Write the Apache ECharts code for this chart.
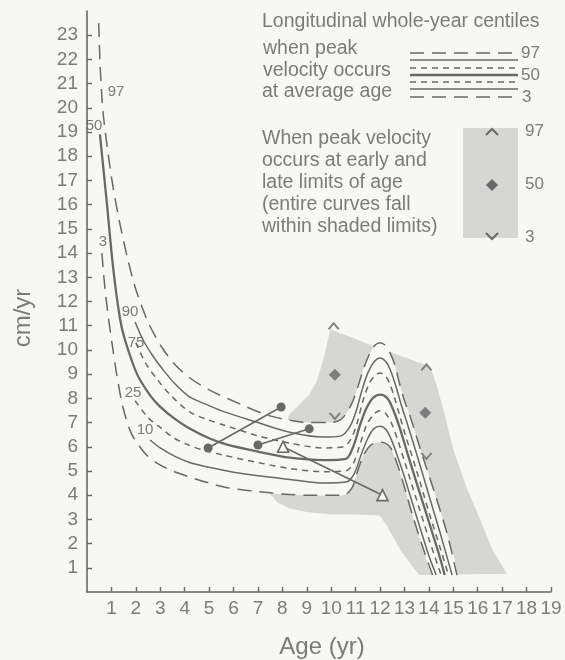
<!DOCTYPE html>
<html>
<head>
<meta charset="utf-8">
<script src="https://cdn.jsdelivr.net/npm/echarts@6/dist/echarts.min.js"></script>
<style>
  html, body { margin: 0; padding: 0; background: #f7f7f4; }
  #chart { width: 565px; height: 660px; }
</style>
</head>
<body>
<div id="chart"></div>
<script>
// whole-year centile curves, [age (yr), velocity (cm/yr)]
var p97 = [[0.48,23.5],[0.54,21.7],[0.65,19.9],[0.84,18.3],[1.07,16.7],[1.35,15.2],[1.68,13.7],[2.0,12.5],[2.5,11.15],[3.07,10.1],[3.6,9.4],[4.2,8.85],[5.0,8.35],[6.3,7.75],[7.4,7.3],[8.3,7.1],[9.0,7.0],[10.0,7.0],[10.35,7.1],[10.6,7.35],[10.85,7.8],[11.1,8.5],[11.35,9.3],[11.6,9.9],[11.8,10.2],[12.0,10.3],[12.2,10.2],[12.4,9.9],[12.6,9.4],[12.8,8.6],[13.0,7.9],[13.25,7.2],[13.65,5.9],[14.2,4.2],[14.75,2.4],[15.15,0.7]];
var p90 = [[1.97,11.15],[2.3,10.4],[2.7,9.75],[3.1,9.2],[3.6,8.6],[4.2,8.06],[5.0,7.7],[5.6,7.45],[7.0,7.0],[8.3,6.6],[9.7,6.4],[10.4,6.45],[10.75,6.8],[11.0,7.4],[11.25,8.3],[11.5,9.05],[11.75,9.5],[12.0,9.67],[12.25,9.5],[12.45,9.1],[12.65,8.5],[12.85,7.8],[13.1,7.0],[13.5,5.7],[14.0,4.0],[14.5,2.3],[14.95,0.7]];
var p75 = [[2.0,10.3],[2.4,9.45],[2.9,8.75],[3.4,8.15],[4.2,7.44],[5.0,7.1],[5.6,6.9],[7.0,6.45],[8.3,6.15],[9.7,5.95],[10.5,6.0],[10.8,6.3],[11.05,6.95],[11.3,7.9],[11.55,8.6],[11.8,8.95],[12.0,9.05],[12.2,8.95],[12.4,8.6],[12.6,8.0],[12.8,7.3],[13.0,6.6],[13.5,5.0],[14.0,3.3],[14.5,1.7],[14.8,0.7]];
var p50 = [[0.53,18.9],[0.8,16.2],[1.07,13.4],[1.35,11.3],[1.56,10.4],[2.05,9.0],[2.6,8.1],[3.0,7.65],[3.6,7.15],[4.2,6.75],[5.0,6.35],[5.7,6.1],[7.0,5.8],[8.3,5.55],[9.7,5.45],[10.6,5.5],[10.9,6.0],[11.15,6.8],[11.4,7.5],[11.7,8.0],[12.0,8.15],[12.3,8.0],[12.55,7.5],[12.8,6.8],[13.1,5.8],[13.5,4.5],[14.0,2.9],[14.4,1.6],[14.65,0.7]];
var p25 = [[1.97,7.9],[2.5,7.2],[3.0,6.8],[3.5,6.4],[4.2,6.05],[4.8,5.85],[5.6,5.65],[7.0,5.35],[8.3,5.1],[9.7,4.97],[10.6,5.0],[10.9,5.3],[11.15,6.0],[11.45,6.9],[11.75,7.35],[12.0,7.5],[12.25,7.35],[12.5,6.9],[12.75,6.2],[13.0,5.4],[13.5,3.8],[14.0,2.2],[14.5,0.7]];
var p10 = [[2.58,6.28],[3.0,5.95],[3.6,5.6],[4.2,5.35],[5.0,5.15],[6.0,4.95],[7.0,4.8],[8.3,4.65],[9.7,4.5],[10.65,4.55],[10.95,4.9],[11.2,5.6],[11.5,6.35],[11.75,6.75],[12.0,6.85],[12.25,6.7],[12.5,6.2],[12.75,5.5],[13.0,4.75],[13.5,3.1],[14.0,1.5],[14.3,0.7]];
var p3 = [[0.61,14.0],[0.72,12.7],[0.88,11.3],[1.05,10.1],[1.23,8.9],[1.48,7.6],[1.84,6.5],[2.4,5.7],[2.9,5.3],[3.5,5.0],[4.2,4.75],[5.0,4.5],[5.8,4.3],[7.0,4.15],[8.0,4.05],[9.0,4.0],[10.5,4.0],[10.85,4.3],[11.05,4.9],[11.3,5.6],[11.6,6.05],[12.0,6.2],[12.4,6.0],[12.7,5.3],[12.95,4.5],[13.35,3.1],[13.8,1.7],[14.15,0.7]];

// range covered when peak comes early / late
var shadeOutline = [[9.96,10.85],[11.0,10.45],[12.0,10.05],[13.0,9.7],[14.05,9.3],[14.3,8.6],[14.6,7.5],[15.0,5.9],[15.55,4.3],[16.1,3.0],[16.6,1.75],[17.2,0.75],[13.6,0.7],[12.85,1.7],[12.3,2.7],[12.0,3.15],[11.0,3.2],[10.0,3.2],[9.0,3.3],[8.3,3.45],[7.8,3.7],[7.45,4.1],[7.35,4.6],[7.6,5.6],[7.95,6.6],[8.3,7.35],[8.7,7.75],[9.1,8.15],[9.4,8.7],[9.65,9.5],[9.82,10.2]];

// early / late peak markers: 97th, 50th, 3rd
var markHigh = [[10.1,11.0],[13.9,9.3]];
var markMid = [[10.15,8.97],[13.85,7.4]];
var markLow = [[10.15,7.25],[13.9,5.6]];

// individual children
var childA = [[4.96,5.95],[7.95,7.64]];
var childB = [[7.0,6.07],[9.1,6.74]];
var childC = [[8.03,6.0],[12.1,4.0]];

var xTicks = [1,2,3,4,5,6,7,8,9,10,11,12,13,14,15,16,17,18,19];
var yTicks = [1,2,3,4,5,6,7,8,9,10,11,12,13,14,15,16,17,18,19,20,21,22,23];

var INK = '#686868', TXT = '#7b7b7b', BG = '#f7f7f4', SHADE = '#d6d6d4';
var LONG = [14, 8], SHORT = [6, 5];
var FONT = '"Liberation Sans", Arial, sans-serif';
var CARET_UP = 'path://M0,8 L6,0 L12,8 L10.2,9 L6,3.4 L1.8,9 Z';
var CARET_DOWN = 'path://M0,1 L6,9 L12,1 L10.2,0 L6,5.6 L1.8,0 Z';

function polygonSeries(points, fill, z, smooth) {
    return {
        type: 'custom',
        silent: true,
        z: z,
        clip: false,
        data: [points[0]],
        renderItem: function (params, api) {
            return {
                type: 'polygon',
                shape: { points: points.map(function (p) { return api.coord(p); }), smooth: smooth },
                style: { fill: fill }
            };
        }
    };
}

function curve(data, dash, width) {
    return {
        type: 'line', data: data, symbol: 'none', smooth: 0.3, silent: true, z: 3,
        lineStyle: { color: INK, width: width, type: dash || 'solid' }
    };
}

function track(data, symbol, size, filled) {
    return {
        type: 'line', data: data, symbol: symbol, symbolSize: size, silent: true, z: 5,
        lineStyle: { color: INK, width: 1.6 },
        itemStyle: { color: filled ? INK : BG, borderColor: INK, borderWidth: filled ? 0 : 1.6 }
    };
}

function marks(data, symbol, size) {
    return { type: 'scatter', data: data, symbol: symbol, symbolSize: size, silent: true, z: 6, itemStyle: { color: INK } };
}

function text(x, y, s, size, align, extra) {
    var el = {
        type: 'text', x: x, y: y, silent: true,
        style: { text: s, font: size + 'px ' + FONT, fill: TXT, align: align || 'left', textAlign: align || 'left', verticalAlign: 'middle', textVerticalAlign: 'middle' }
    };
    if (extra) { for (var k in extra) el[k] = extra[k]; }
    return el;
}

function hline(y, dash, width) {
    return { type: 'line', silent: true, shape: { x1: 410, y1: y, x2: 518, y2: y }, style: { stroke: INK, lineWidth: width, lineDash: dash || null } };
}

// white band under the average-age curves, masking the shading
var band = p97.filter(function (p) { return p[0] >= 7; })
    .concat(p3.filter(function (p) { return p[0] >= 7; }).reverse());

var graphics = [
    text(262, 22, 'Longitudinal whole-year centiles', 19.5),
    text(263, 49, 'when peak', 19.5),
    text(263, 71, 'velocity occurs', 19.5),
    text(262, 92, 'at average age', 19.5),
    hline(53, LONG, 1.5), hline(60, null, 1.5), hline(68, SHORT, 1.5), hline(75, null, 2.3),
    hline(82, SHORT, 1.5), hline(89, null, 1.5), hline(97, LONG, 1.5),
    text(521, 53, '97', 17), text(521, 75, '50', 17), text(522, 97, '3', 17),
    text(262, 139, 'When peak velocity', 19.5),
    text(262, 161, 'occurs at early and', 19.5),
    text(262, 183, 'late limits of age', 19.5),
    text(262, 205, '(entire curves fall', 19.5),
    text(262, 227, 'within shaded limits)', 19.5),
    { type: 'rect', silent: true, shape: { x: 463, y: 128, width: 55, height: 110 }, style: { fill: SHADE } },
    { type: 'polyline', silent: true, shape: { points: [[486, 135], [492, 129], [498, 135]] }, style: { stroke: INK, lineWidth: 2 } },
    { type: 'polygon', silent: true, shape: { points: [[492, 179], [498, 185], [492, 191], [486, 185]] }, style: { fill: INK } },
    { type: 'polyline', silent: true, shape: { points: [[486, 233], [492, 239], [498, 233]] }, style: { stroke: INK, lineWidth: 2 } },
    text(525, 131, '97', 17), text(525, 184, '50', 17), text(525, 237, '3', 17),
    text(116, 92, '97', 15, 'center'),
    text(94, 126, '50', 15, 'center'),
    text(103, 242, '3', 15, 'center'),
    text(130, 312, '90', 15, 'center'),
    text(136, 343, '75', 15, 'center'),
    text(133, 393, '25', 15, 'center'),
    text(145, 430, '10', 15, 'center'),
    text(322, 647, 'Age (yr)', 24, 'center'),
    text(23, 318, 'cm/yr', 24, 'center', { rotation: Math.PI / 2 })
];

var chart = echarts.init(document.getElementById('chart'));
chart.setOption({
    backgroundColor: BG,
    animation: false,
    grid: { left: 87, right: 14, top: 11, bottom: 68 },
    xAxis: {
        type: 'value', min: 0, max: 19, interval: 1,
        splitLine: { show: false },
        axisLine: { lineStyle: { color: INK, width: 1.6 } },
        axisTick: { inside: true, length: 5, lineStyle: { color: INK, width: 1.4 }, customValues: xTicks },
        axisLabel: { color: TXT, fontSize: 19, fontFamily: FONT, margin: 7, customValues: xTicks,
            formatter: function (v) { return v > 0 ? String(v) : ''; } }
    },
    yAxis: {
        type: 'value', min: 0, max: 24, interval: 1,
        splitLine: { show: false },
        axisLine: { show: true, lineStyle: { color: INK, width: 1.6 } },
        axisTick: { show: true, inside: true, length: 5, lineStyle: { color: INK, width: 1.4 }, customValues: yTicks },
        axisLabel: { color: TXT, fontSize: 19, fontFamily: FONT, margin: 9, customValues: yTicks,
            formatter: function (v) { return v > 0 && v < 24 ? String(v) : ''; } }
    },
    graphic: graphics,
    series: [
        polygonSeries(shadeOutline, SHADE, 1, 0),
        polygonSeries(band, BG, 2, 0.2),
        curve(p97, LONG, 1.5),
        curve(p90, null, 1.5),
        curve(p75, SHORT, 1.5),
        curve(p50, null, 2.3),
        curve(p25, SHORT, 1.5),
        curve(p10, null, 1.5),
        curve(p3, LONG, 1.5),
        track(childA, 'circle', 9, true),
        track(childB, 'circle', 9, true),
        track(childC, 'triangle', 11, false),
        marks(markHigh, CARET_UP, [12, 8]),
        marks(markMid, 'diamond', 12),
        marks(markLow, CARET_DOWN, [12, 8])
    ]
});
</script>
</body>
</html>
